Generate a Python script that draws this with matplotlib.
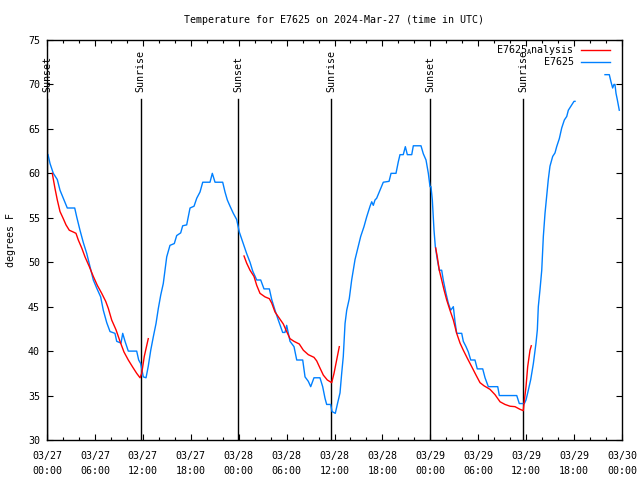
import numpy as np
import matplotlib
matplotlib.use("Agg")
import matplotlib.pyplot as plt

plt.rcParams['font.family'] = ['DejaVu Sans Mono']
plt.rcParams['mathtext.fontset'] = 'custom'
plt.rcParams['mathtext.tt'] = 'DejaVu Sans Mono'
plt.rcParams['mathtext.rm'] = 'DejaVu Sans Mono'

# hours since 03/27 00:00 UTC
obs_hours = [
    0.13, 0.38, 0.79, 1.29, 1.63, 2.04, 2.54, 3.47, 3.72, 4.13, 4.55, 4.97, 5.38,
    5.80, 6.22, 6.72, 7.05, 7.48, 7.89, 8.51, 8.73, 9.27, 9.48, 9.77, 10.18, 11.23,
    11.48, 11.73, 12.06, 12.40, 12.68, 12.99, 13.31, 13.65, 13.94, 14.24, 14.56,
    14.78, 14.99, 15.40, 15.94, 16.24, 16.74, 16.99, 17.49, 17.91, 18.41, 18.75,
    19.16, 19.50, 20.41, 20.70, 21.04, 22.00, 22.29, 22.58, 22.92, 23.33, 23.75,
    24.08, 24.58, 24.99, 25.42, 25.76, 26.26, 26.76, 27.17, 27.84, 28.14, 28.55,
    28.96, 29.51, 29.80, 30.01, 30.43, 30.93, 31.27, 32.02, 32.31, 32.72, 33.02,
    33.43, 34.18, 34.52, 34.81, 35.02, 35.52, 35.69, 36.10, 36.35, 36.69, 36.90,
    37.10, 37.32, 37.53, 37.85, 38.15, 38.57, 38.98, 39.28, 39.69, 40.03, 40.45,
    40.66, 40.86, 41.07, 41.28, 41.70, 42.11, 42.83, 43.08, 43.70, 43.99, 44.20,
    44.61, 44.87, 45.12, 45.67, 45.87, 46.83, 47.12, 47.46, 47.75, 47.96, 48.08,
    48.25, 48.37, 48.46, 48.62, 48.87, 49.12, 49.42, 49.62, 49.96, 50.25, 50.55,
    50.88, 51.09, 51.30, 51.93, 52.13, 52.47, 52.76, 53.06, 53.59, 53.88, 54.56,
    54.85, 55.26, 56.44, 56.64, 58.82, 59.14, 59.77, 59.98, 60.27, 60.57, 60.90,
    61.23, 61.40, 61.52, 61.73, 61.95, 62.15, 62.36, 62.57, 62.77, 62.98, 63.32,
    63.61, 63.82, 64.15, 64.45, 64.78, 65.08, 65.28, 65.70, 65.99, 66.12, 68.0,
    69.87, 70.41, 70.62, 70.83, 70.99, 71.12, 71.25, 71.41, 71.66,
]
obs_temp = [
    62.1, 61.1, 60.0, 59.3, 58.1, 57.2, 56.1, 56.1, 55.1, 53.6, 52.2, 51.0, 49.5,
    48.0, 47.1, 46.1, 44.6, 43.2, 42.2, 42.0, 41.1, 40.9, 42.0, 41.1, 40.0, 40.0,
    39.0, 38.6, 37.1, 37.0, 38.3, 40.1, 41.6, 43.1, 44.8, 46.3, 47.6,
    49.1, 50.6, 51.9, 52.1, 53.0, 53.3, 54.1, 54.2, 56.1, 56.3, 57.2,
    57.9, 59.0, 59.0, 60.0, 59.0, 59.0, 57.9, 57.0, 56.3, 55.5, 54.8,
    53.4, 52.1, 51.0, 50.0, 49.0, 48.0, 48.0, 47.0, 47.0, 45.8, 44.6,
    43.5, 42.1, 42.1, 42.9, 41.1, 40.5, 39.0, 39.0, 37.1, 36.6, 36.0,
    37.0, 37.0, 36.0, 34.7, 34.0, 34.0, 33.2, 33.0, 34.0, 35.3, 37.5,
    39.4, 43.1, 44.6, 45.9, 48.0, 50.3, 51.8, 52.9, 54.0, 55.1, 56.3,
    56.8, 56.4, 57.0, 57.2, 58.1, 59.0, 59.1, 60.0, 60.0, 61.3, 62.1,
    62.1, 63.0, 62.1, 62.1, 63.1, 63.1, 62.2, 61.5, 60.0, 58.5, 58.5,
    57.0, 55.1, 53.6, 51.8, 50.3, 49.1, 49.1, 48.0, 46.5, 45.4, 44.6,
    45.0, 43.3, 42.0, 42.0, 41.1, 40.5, 39.9, 39.0, 39.0, 38.0, 38.0,
    37.0, 36.0, 36.0, 35.0, 35.0, 34.1, 34.1, 34.5, 35.6, 36.8, 38.6,
    40.9, 42.4, 45.0, 46.9, 49.1, 52.9, 55.5, 57.4, 59.3, 60.8, 61.9,
    62.3, 63.0, 63.9, 65.1, 66.0, 66.4, 67.1, 67.7, 68.1, 68.1, np.nan,
    71.1, 71.1, 70.3, 69.6, 70.0, 70.0, 69.0, 68.3, 67.1,
]

ana1_hours = [0.66, 1.00, 1.29, 1.63, 2.04, 2.38, 2.79, 3.29, 3.63, 3.92, 4.35, 4.76,
              5.30, 5.80, 6.30, 6.85, 7.35, 7.68, 8.10, 8.64, 9.14, 9.64, 10.18,
              10.73, 11.23, 11.65, 11.86, 12.18, 12.68]
ana1_temp = [60.0, 58.3, 57.0, 55.7, 54.9, 54.2, 53.6, 53.4, 53.25, 52.5, 51.6, 50.6,
             49.5, 48.4, 47.4, 46.5, 45.6, 44.8, 43.5, 42.4, 41.1, 39.9, 39.0,
             38.2, 37.5, 37.0, 37.5, 39.4, 41.4]
ana2_hours = [24.67, 25.00, 25.42, 25.92, 26.26, 26.67, 27.30, 27.84, 28.14, 28.55,
              29.09, 29.59, 30.01, 30.43, 30.93, 31.59, 32.10, 32.72, 33.43, 33.77,
              34.18, 34.60, 35.10, 35.65, 35.94, 36.27, 36.60]
ana2_temp = [50.7, 49.9, 49.1, 48.4, 47.4, 46.5, 46.1, 45.9, 45.4, 44.4,
             43.7, 43.05, 42.2, 41.4, 41.1, 40.8, 40.1, 39.6, 39.3, 38.9,
             38.1, 37.3, 36.75, 36.45, 37.5, 39.0, 40.5]
ana3_hours = [48.67, 48.87, 49.12, 49.42, 49.71, 50.05, 50.46, 50.88, 51.30, 51.72,
              52.13, 52.63, 53.18, 53.72, 54.22, 54.72, 55.47, 56.10, 56.73, 57.35,
              57.98, 58.60, 59.23, 59.64, 59.73, 59.98, 60.19, 60.48, 60.64]
ana3_temp = [51.6, 50.6, 49.1, 48.0, 46.9, 45.75, 44.6, 43.5, 42.0, 40.9,
             40.1, 39.2, 38.25, 37.3, 36.45, 36.1, 35.7, 35.1, 34.3, 34.0,
             33.8, 33.75, 33.45, 33.3, 34.1, 36.0, 38.25, 40.1, 40.6]

sun_hours = [0.0, 11.71, 23.92, 35.56, 47.96, 59.60]
sun_labels = ["Sunset", "Sunrise", "Sunset", "Sunrise", "Sunset", "Sunrise"]

tick_hours = list(range(0, 73, 6))
tick_labels = ["03/27\n00:00", "03/27\n06:00", "03/27\n12:00", "03/27\n18:00",
               "03/28\n00:00", "03/28\n06:00", "03/28\n12:00", "03/28\n18:00",
               "03/29\n00:00", "03/29\n06:00", "03/29\n12:00", "03/29\n18:00",
               "03/30\n00:00"]

RED = '#ff0000'
BLUE = '#0080ff'
FS = 7.2

fig = plt.figure(figsize=(6.4, 4.8), dpi=100)
ax = fig.add_axes([47 / 640, 40 / 480, 575 / 640, 400 / 480])

for h, lab in zip(sun_hours, sun_labels):
    ax.plot([h, h], [30, 68.4], color='black', lw=1.0, zorder=1)
    ax.text(h, 69.2, lab, rotation=90, ha='center', va='bottom', fontsize=FS)

ax.plot(obs_hours, obs_temp, color=BLUE, lw=1.0, zorder=2)
for hh, tt in [(ana1_hours, ana1_temp), (ana2_hours, ana2_temp), (ana3_hours, ana3_temp)]:
    ax.plot(hh, tt, color=RED, lw=1.0, zorder=3)

ax.set_xlim(0, 72)
ax.set_ylim(30, 75)
ax.set_xticks(tick_hours)
ax.set_xticklabels(tick_labels, fontsize=FS, linespacing=1.6)
ax.set_xticks(np.arange(0, 73, 2), minor=True)
ax.set_yticks(np.arange(30, 76, 5))
ax.set_yticklabels([str(v) for v in range(30, 76, 5)], fontsize=FS)
ax.tick_params(which='both', direction='in', top=True, right=True, width=0.8)
ax.tick_params(axis='y', which='major', length=4.5, pad=5)
ax.tick_params(axis='x', which='major', length=4.5, pad=8)
ax.tick_params(which='minor', length=2.5)
for s in ax.spines.values():
    s.set_linewidth(1.0)

ax.set_ylabel("degrees F", fontsize=FS, labelpad=9)
fig.text(334.5 / 640, 1 - 20 / 480, "Temperature for E7625 on 2024-Mar-27 (time in UTC)",
         ha='center', va='center', fontsize=FS)

# legend drawn by hand: text right-aligned, sample line to the right
legend_rows = [(r"E7625$_\mathtt{A}$nalysis", RED, 0.976), ("E7625", BLUE, 0.944)]
for lab, col, y in legend_rows:
    ax.text(0.9165, y, lab, transform=ax.transAxes, ha='right', va='center', fontsize=FS)
    ax.plot([0.9287, 0.9791], [y, y], transform=ax.transAxes, color=col, lw=1.0)

fig.savefig("out.png", dpi=100)
